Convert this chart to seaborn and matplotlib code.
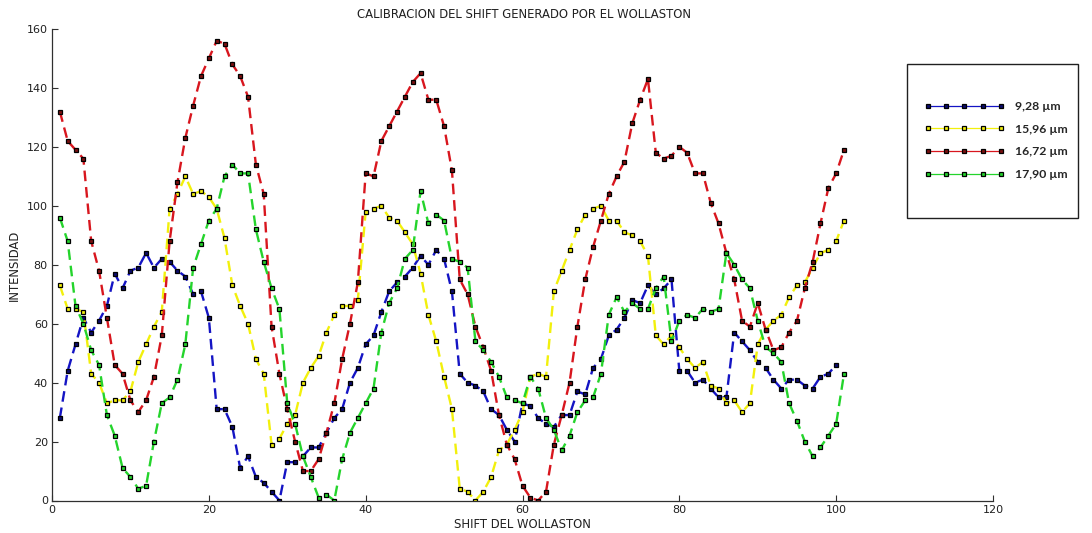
import numpy as np
import pandas as pd
import matplotlib
matplotlib.use("Agg")
import matplotlib.pyplot as plt
from matplotlib.patches import Rectangle
import seaborn as sns

# Wollaston shift positions
shift_blue = list(range(1, 101))
shift = list(range(1, 102))

# Intensity for each wavelength
i_928 = [28, 44, 53, 62, 57, 61, 66, 77, 72, 78, 79, 84, 79, 82, 81, 78, 76, 70, 71, 62,
         31, 31, 25, 11, 15, 8, 6, 3, 0, 13, 13, 15, 18, 18, 23, 28, 31, 40, 45, 53,
         56, 64, 71, 74, 76, 79, 83, 80, 85, 82, 71, 43, 40, 39, 37, 31, 29, 24, 20, 33,
         32, 28, 26, 25, 29, 29, 37, 36, 45, 48, 56, 58, 62, 68, 67, 73, 70, 72, 75, 44,
         44, 40, 41, 38, 35, 35, 57, 54, 51, 47, 45, 41, 38, 41, 41, 39, 38, 42, 43, 46]

i_1596 = [73, 65, 65, 64, 43, 40, 33, 34, 34, 37, 47, 53, 59, 64, 99, 104, 110, 104, 105, 103,
          99, 89, 73, 66, 60, 48, 43, 19, 21, 26, 29, 40, 45, 49, 57, 63, 66, 66, 68, 98,
          99, 100, 96, 95, 91, 87, 77, 63, 54, 42, 31, 4, 3, 0, 3, 8, 17, 19, 24, 30,
          42, 43, 42, 71, 78, 85, 92, 97, 99, 100, 95, 95, 91, 90, 88, 83, 56, 53, 56, 52,
          48, 45, 47, 39, 38, 33, 34, 30, 33, 53, 58, 61, 63, 69, 73, 74, 79, 84, 85, 88,
          95]

i_1672 = [132, 122, 119, 116, 88, 78, 62, 46, 43, 34, 30, 34, 42, 56, 88, 108, 123, 134, 144, 150,
          156, 155, 148, 144, 137, 114, 104, 59, 43, 31, 20, 10, 10, 14, 23, 33, 48, 60, 74, 111,
          110, 122, 127, 132, 137, 142, 145, 136, 136, 127, 112, 75, 70, 59, 52, 44, 29, 19, 14, 5,
          1, 0, 3, 19, 29, 40, 59, 75, 86, 95, 104, 110, 115, 128, 136, 143, 118, 116, 117, 120,
          118, 111, 111, 101, 94, 84, 75, 61, 59, 67, 58, 51, 52, 57, 61, 72, 81, 94, 106, 111,
          119]

i_1790 = [96, 88, 66, 60, 51, 46, 29, 22, 11, 8, 4, 5, 20, 33, 35, 41, 53, 79, 87, 95,
          99, 110, 114, 111, 111, 92, 81, 72, 65, 33, 26, 15, 8, 1, 2, 0, 14, 23, 28, 33,
          38, 57, 67, 72, 82, 85, 105, 94, 97, 95, 82, 81, 79, 54, 51, 47, 42, 35, 34, 33,
          42, 38, 28, 24, 17, 22, 30, 34, 35, 43, 63, 69, 64, 67, 65, 65, 72, 76, 54, 61,
          63, 62, 65, 64, 65, 84, 80, 75, 72, 61, 52, 50, 47, 33, 27, 20, 15, 18, 22, 26,
          43]

labels = ["9,28 \u00b5m", "15,96 \u00b5m", "16,72 \u00b5m", "17,90 \u00b5m"]
line_colors = ["#1414c4", "#f2f00c", "#d8161e", "#24d42c"]
marker_faces = ["#0c0c6c", "#f2f00c", "#7a1010", "#24d42c"]
xs = [shift_blue, shift, shift, shift]
ys = [i_928, i_1596, i_1672, i_1790]

sns.set_theme(style="white")
plt.rcParams["font.family"] = ["Liberation Sans Narrow", "DejaVu Sans"]

W, H = 1092, 533
fig = plt.figure(figsize=(W / 100, H / 100), dpi=100)
fig.patch.set_facecolor("white")
ax = fig.add_axes([52 / W, 1 - 500.5 / H, (993 - 52) / W, (500.5 - 29) / H])

for x, y, c, mf, lab in zip(xs, ys, line_colors, marker_faces, labels):
    df = pd.DataFrame({"shift": x, "intensidad": y})
    sns.lineplot(data=df, x="shift", y="intensidad", ax=ax, color=c,
                 linestyle=(0, (4.5, 2.5)), linewidth=1.7,
                 marker="s", markersize=3.3, markerfacecolor=mf,
                 markeredgecolor="black", markeredgewidth=0.9, label=lab)

handles, labs = ax.get_legend_handles_labels()
ax.get_legend().remove()

ax.set_xlim(0, 120)
ax.set_ylim(0, 160)
ax.set_xticks(range(0, 121, 20))
ax.set_yticks(range(0, 161, 20))
ax.set_xlabel("")
ax.set_ylabel("")
for s in ("top", "right"):
    ax.spines[s].set_visible(False)
for s in ("left", "bottom"):
    ax.spines[s].set_color("#303030")
    ax.spines[s].set_linewidth(0.9)
ax.tick_params(direction="in", length=4, width=0.8, color="#303030",
               labelsize=8, labelcolor="#202020", pad=3,
               bottom=True, left=True)
ax.set_facecolor("white")

fig.text(524 / W, 1 - 15 / H, "CALIBRACION DEL SHIFT GENERADO POR EL WOLLASTON",
         ha="center", va="center", fontsize=8.4, color="#202020")
fig.text(522 / W, 1 - 524 / H, "SHIFT DEL WOLLASTON",
         ha="center", va="center", fontsize=8.4, color="#202020")
fig.text(14 / W, 1 - 265 / H, "INTENSIDAD", rotation=90,
         ha="center", va="center", fontsize=8.4, color="#202020")

# legend frame drawn separately so padding can differ per side
fig.add_artist(Rectangle((907 / W, 1 - 218 / H), (1078 - 907) / W, (218 - 64) / H,
                         transform=fig.transFigure, facecolor="white",
                         edgecolor="#202020", linewidth=1.0))
leg = fig.legend(handles, labs, loc="upper left",
                 bbox_to_anchor=(918 / W, 1 - 95 / H), frameon=False,
                 numpoints=5, handlelength=6.6, handletextpad=0.8,
                 labelspacing=0.95, borderpad=0,
                 prop={"family": ["Lato", "DejaVu Sans"], "weight": "bold", "size": 8.8})
for h in leg.legend_handles:
    h.set_linestyle("-")
    h.set_linewidth(0.9)
    h.set_markersize(3.5)

fig.savefig("out.png", dpi=100, facecolor="white")
